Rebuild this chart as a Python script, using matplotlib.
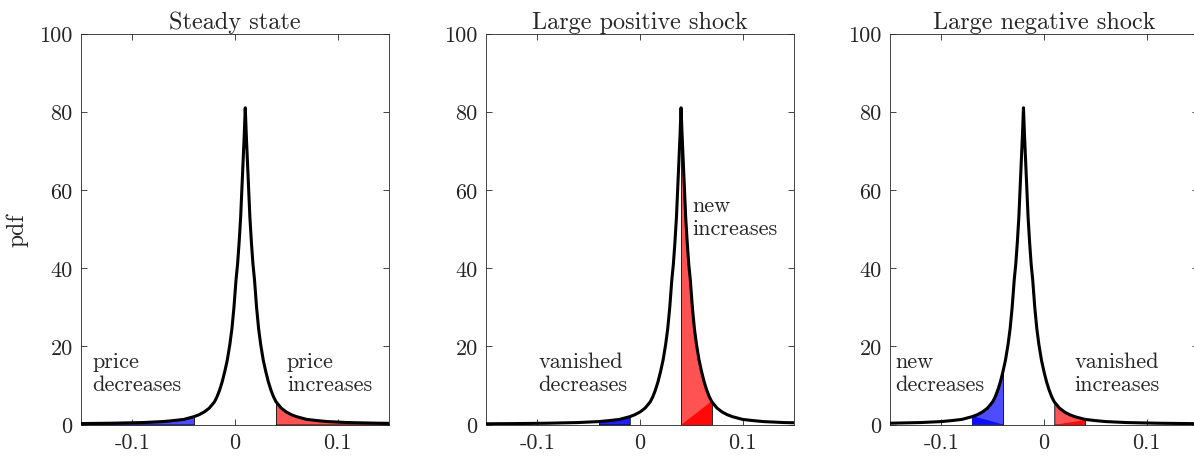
import numpy as np
import matplotlib
matplotlib.use('Agg')
import matplotlib.pyplot as plt

plt.rcParams['font.family'] = ['cmr10', 'DejaVu Serif']
plt.rcParams['mathtext.fontset'] = 'cm'
plt.rcParams['axes.unicode_minus'] = False

# pdf profile: distance from the peak -> density
dist = [0, 0.001, 0.002, 0.003, 0.0045, 0.006, 0.0075, 0.009, 0.011, 0.013,
        0.015, 0.0175, 0.020, 0.0225, 0.025, 0.0275, 0.030, 0.035, 0.040,
        0.045, 0.050, 0.060, 0.070, 0.080, 0.100, 0.130, 0.160, 0.200]
dens = [81, 74, 68, 62, 53, 46.5, 41, 37, 30, 24.5,
        20.5, 16.5, 13.5, 10.9, 8.8, 7.1, 5.8, 4.2, 3.2,
        2.5, 2.0, 1.3, 1.0, 0.75, 0.5, 0.33, 0.24, 0.16]

titles = ['Steady state', 'Large positive shock', 'Large negative shock']
peaks = [0.01, 0.04, -0.02]

# shaded ranges (x from, x to) per panel
blue_ranges = [(-0.30, -0.04), (-0.04, -0.01), (-0.07, -0.04)]
red_ranges = [(0.04, 0.30), (0.04, 0.07), (0.01, 0.04)]
blue_colors = [(0.3, 0.3, 1.0), (0.12, 0.12, 1.0), (0.3, 0.3, 1.0)]

# darker overlap triangles (x, y vertices), None if absent
blue_overlap = [None, None, ([-0.07, -0.07, -0.04], [0, 2.2, 0])]
red_overlap = [None, ([0.04, 0.07, 0.07], [0, 0, 6.1]),
               ([0.01, 0.04, 0.04], [0, 0, 1.2])]

# annotations: (x, y, text)
labels = [
    [(-0.139, 13.3, 'price\ndecreases'), (0.0506, 13.3, 'price\nincreases')],
    [(-0.099, 13.3, 'vanished\ndecreases'), (0.0507, 53.2, 'new\nincreases')],
    [(-0.145, 13.3, 'new\ndecreases'), (0.030, 13.3, 'vanished\nincreases')],
]

txt = '#262626'
d = np.array(dist)
f = np.array(dens)
off = np.concatenate([-d[::-1], d[1:]])
pdf = np.concatenate([f[::-1], f[1:]])

fig = plt.figure(figsize=(11.94, 4.6), dpi=100)
lefts = [81, 486, 890]
for i in range(3):
    ax = fig.add_axes([lefts[i] / 1194, 34.5 / 460, 308 / 1194, 391 / 460])
    x = peaks[i] + off
    bl, bh = blue_ranges[i]
    rl, rh = red_ranges[i]
    mb = (x >= bl - 1e-9) & (x <= bh + 1e-9)
    mr = (x >= rl - 1e-9) & (x <= rh + 1e-9)
    ax.fill_between(x[mb], 0, pdf[mb], facecolor=blue_colors[i],
                    edgecolor='k', linewidth=0.6, zorder=2)
    ax.fill_between(x[mr], 0, pdf[mr], facecolor=(1.0, 0.32, 0.32),
                    edgecolor='k', linewidth=0.6, zorder=2)
    if blue_overlap[i] is not None:
        ax.fill(blue_overlap[i][0], blue_overlap[i][1], color=(0.05, 0.05, 1.0),
                linewidth=0, zorder=2.5)
    if red_overlap[i] is not None:
        ax.fill(red_overlap[i][0], red_overlap[i][1], color=(1.0, 0.03, 0.03),
                linewidth=0, zorder=2.5)
    ax.plot(x, pdf, color='k', linewidth=2.2, zorder=3)
    for lx, ly, s in labels[i]:
        ax.text(lx, ly, s, fontsize=16, color=txt, va='center', ha='left',
                linespacing=1.2)
    ax.set_xlim(-0.15, 0.15)
    ax.set_ylim(0, 100)
    ax.set_xticks([-0.1, 0, 0.1])
    ax.set_xticklabels(['-0.1', '0', '0.1'])
    ax.set_yticks([0, 20, 40, 60, 80, 100])
    ax.tick_params(direction='in', top=True, right=True, length=4,
                   width=0.6, colors=txt, labelsize=16, pad=6)
    for sp in ax.spines.values():
        sp.set_color(txt)
        sp.set_linewidth(0.6)
    ax.set_title(titles[i], fontsize=17.5, color=txt, pad=4)
    if i == 0:
        ax.set_ylabel('pdf', fontsize=17, color=txt, labelpad=8)

fig.savefig('out.png', dpi=100)
